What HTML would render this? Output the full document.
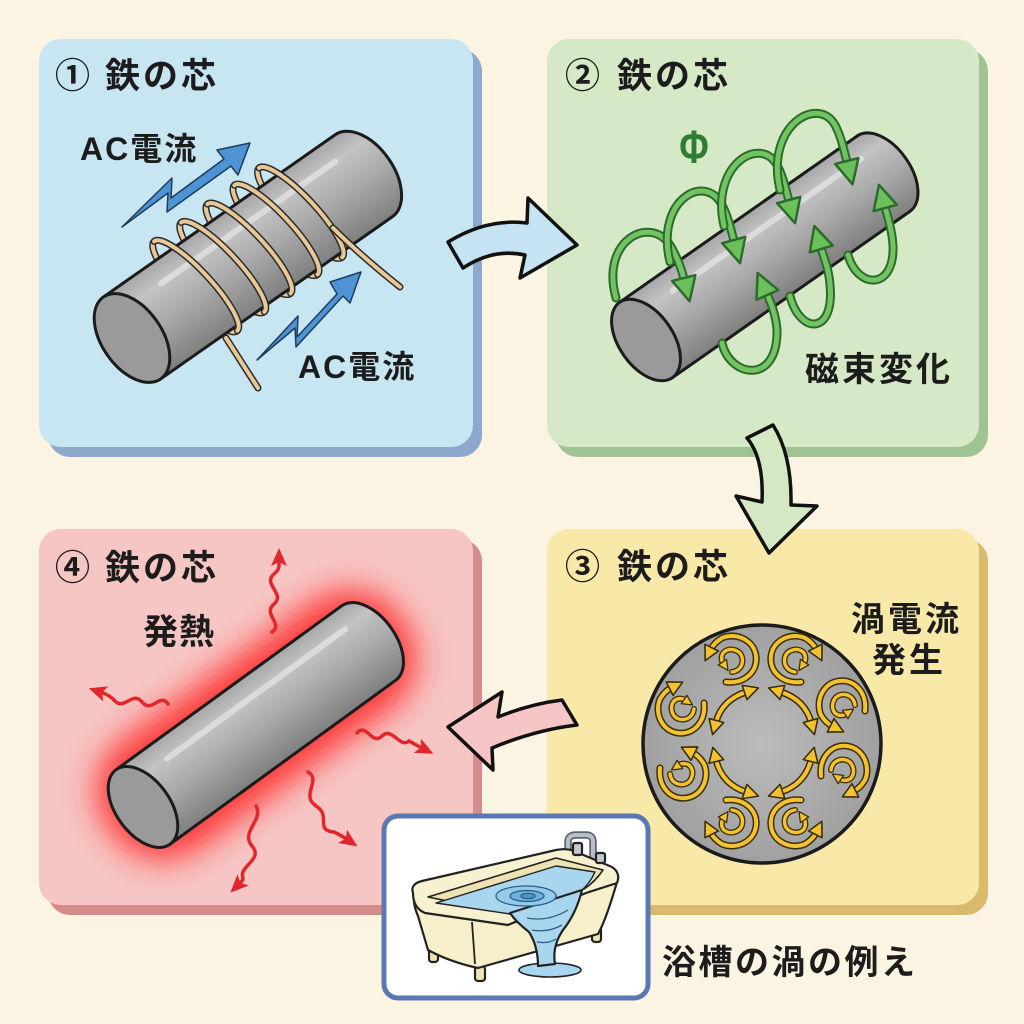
<!DOCTYPE html>
<html><head><meta charset="utf-8">
<style>
html,body{margin:0;padding:0;background:#fcf4e2;}
svg{display:block;}
text{font-family:"Liberation Sans","Noto Sans CJK JP",sans-serif;fill:#1c1c1c;font-weight:700;}
</style></head>
<body>
<svg width="1024" height="1024" viewBox="0 0 1024 1024" xmlns="http://www.w3.org/2000/svg">
<defs>
  <linearGradient id="cg" x1="0" y1="0" x2="0" y2="1">
    <stop offset="0" stop-color="#a6a6a6"/>
    <stop offset="0.22" stop-color="#c3c3c3"/>
    <stop offset="0.55" stop-color="#a9a9a9"/>
    <stop offset="1" stop-color="#7f7f7f"/>
  </linearGradient>
  <radialGradient id="dg" cx="0.5" cy="0.5" r="0.5">
    <stop offset="0" stop-color="#bcbcbc"/>
    <stop offset="1" stop-color="#a0a0a0"/>
  </radialGradient>
  <filter id="blur" x="-50%" y="-50%" width="200%" height="200%">
    <feGaussianBlur stdDeviation="16"/>
  </filter>
  <marker id="gh" markerUnits="userSpaceOnUse" markerWidth="34" markerHeight="34" refX="3" refY="14" orient="auto">
    <path d="M2,2 L26,14 L2,26 Z" fill="#6cc05c" stroke="#2d6b2d" stroke-width="2.5" stroke-linejoin="round"/>
  </marker>
  <marker id="rh" markerUnits="userSpaceOnUse" markerWidth="24" markerHeight="24" refX="3" refY="10" orient="auto">
    <path d="M0,2 L18,10 L0,18 L4,10 Z" fill="#e3262b"/>
  </marker>
  <marker id="yh" markerUnits="userSpaceOnUse" markerWidth="22" markerHeight="22" refX="3" refY="9" orient="auto-start-reverse">
    <path d="M1.5,1.5 L16,9 L1.5,16.5 Z" fill="#f5c22f" stroke="#3a2f0b" stroke-width="1.6" stroke-linejoin="round"/>
  </marker>
  <marker id="yh2" markerUnits="userSpaceOnUse" markerWidth="16" markerHeight="16" refX="2" refY="6" orient="auto">
    <path d="M1,1 L11,6 L1,11 Z" fill="#f5c22f" stroke="#3a2f0b" stroke-width="1.3" stroke-linejoin="round"/>
  </marker>
  <g id="sp">
    <path d="M-4,22 C14,24 28,12 26,-4 C24,-20 6,-28 -8,-22 C-13,-19 -17,-15 -19,-11" fill="none" stroke="#3a2f0b" stroke-width="7" stroke-linecap="round"/>
    <path d="M-4,22 C14,24 28,12 26,-4 C24,-20 6,-28 -8,-22 C-13,-19 -17,-15 -19,-11" fill="none" stroke="#f5c22f" stroke-width="4" stroke-linecap="round" marker-end="url(#yh)"/>
    <path d="M2,12 C10,11 14,4 12,-3 C10,-10 0,-13 -6,-8 C-9,-5 -9,0 -7,3" fill="none" stroke="#3a2f0b" stroke-width="6" stroke-linecap="round"/>
    <path d="M2,12 C10,11 14,4 12,-3 C10,-10 0,-13 -6,-8 C-9,-5 -9,0 -7,3" fill="none" stroke="#f5c22f" stroke-width="3.4" stroke-linecap="round" marker-end="url(#yh2)"/>
  </g>
</defs>

<!-- Panels -->
<rect x="48" y="49" width="434" height="408" rx="22" fill="#8ea7cc"/>
<rect x="39" y="39" width="434" height="408" rx="22" fill="#c8e5f2"/>
<rect x="556" y="49" width="432" height="408" rx="22" fill="#a0c394"/>
<rect x="547" y="39" width="432" height="408" rx="22" fill="#d6e9c6"/>
<rect x="556" y="539" width="432" height="376" rx="22" fill="#d9b96c"/>
<rect x="547" y="529" width="432" height="376" rx="22" fill="#f9e9a8"/>
<rect x="48" y="539" width="434" height="376" rx="22" fill="#d68c8a"/>
<rect x="39" y="529" width="434" height="376" rx="22" fill="#f6c6c4"/>

<!-- Titles -->
<text x="55" y="88" font-size="35">①</text><text x="105" y="88" font-size="35" letter-spacing="3">鉄の芯</text>
<text x="565" y="88" font-size="35">②</text><text x="617" y="88" font-size="35" letter-spacing="3">鉄の芯</text>
<text x="565" y="579" font-size="35">③</text><text x="617" y="579" font-size="35" letter-spacing="3">鉄の芯</text>
<text x="55" y="580" font-size="35">④</text><text x="105" y="580" font-size="35" letter-spacing="3">鉄の芯</text>

<!-- Panel 1 -->
<text x="80" y="160" font-size="32" letter-spacing="2">AC電流</text>
<text x="298" y="378" font-size="32" letter-spacing="2">AC電流</text>
<polygon points="122,227 172,178 171,198 224,159 217,150 250,143 238,175 231,166 167,212 168,193" fill="#4f93d4" stroke="#1d3c5e" stroke-width="1.5" stroke-linejoin="round"/>
<polygon points="257,360 298,316 297,337 337,294 330,282 361,272 350,303 343,296 296,347 295,328" fill="#4f93d4" stroke="#1d3c5e" stroke-width="1.5" stroke-linejoin="round"/>

<g transform="translate(132,338) rotate(-35)">
  <g fill="none" stroke-linecap="round">
    <g transform="rotate(-8 82 -6)"><path d="M82,55 A15,61 0 0,1 82,-67" stroke="#2a2a2a" stroke-width="7"/><path d="M82,55 A15,61 0 0,1 82,-67" stroke="#e9c897" stroke-width="4"/></g>
    <g transform="rotate(-8 115 -6)"><path d="M115,55 A15,61 0 0,1 115,-67" stroke="#2a2a2a" stroke-width="7"/><path d="M115,55 A15,61 0 0,1 115,-67" stroke="#e9c897" stroke-width="4"/></g>
    <g transform="rotate(-8 147 -6)"><path d="M147,55 A15,61 0 0,1 147,-67" stroke="#2a2a2a" stroke-width="7"/><path d="M147,55 A15,61 0 0,1 147,-67" stroke="#e9c897" stroke-width="4"/></g>
    <g transform="rotate(-8 180 -6)"><path d="M180,55 A15,61 0 0,1 180,-67" stroke="#2a2a2a" stroke-width="7"/><path d="M180,55 A15,61 0 0,1 180,-67" stroke="#e9c897" stroke-width="4"/></g>
    <g transform="rotate(-8 210 -6)"><path d="M210,55 A15,61 0 0,1 210,-67" stroke="#2a2a2a" stroke-width="7"/><path d="M210,55 A15,61 0 0,1 210,-67" stroke="#e9c897" stroke-width="4"/></g>
  </g>
  <path d="M0,-50 L283,-50 A30,50 0 0,1 283,50 L0,50 Z" fill="url(#cg)" stroke="#1b1b1b" stroke-width="3"/>
  <line x1="55" y1="-28" x2="268" y2="-28" stroke="#e4e4e4" stroke-width="6" stroke-linecap="round" opacity="0.75"/>
  <ellipse cx="0" cy="0" rx="30" ry="50" fill="#9a9a9a" stroke="#1b1b1b" stroke-width="3"/>
  <g fill="none" stroke-linecap="round">
    <g transform="rotate(-8 82 -6)"><path d="M82,-67 A15,61 0 0,1 82,55" stroke="#2a2a2a" stroke-width="7"/><path d="M82,-67 A15,61 0 0,1 82,55" stroke="#e9c897" stroke-width="4"/></g>
    <g transform="rotate(-8 115 -6)"><path d="M115,-67 A15,61 0 0,1 115,55" stroke="#2a2a2a" stroke-width="7"/><path d="M115,-67 A15,61 0 0,1 115,55" stroke="#e9c897" stroke-width="4"/></g>
    <g transform="rotate(-8 147 -6)"><path d="M147,-67 A15,61 0 0,1 147,55" stroke="#2a2a2a" stroke-width="7"/><path d="M147,-67 A15,61 0 0,1 147,55" stroke="#e9c897" stroke-width="4"/></g>
    <g transform="rotate(-8 180 -6)"><path d="M180,-67 A15,61 0 0,1 180,55" stroke="#2a2a2a" stroke-width="7"/><path d="M180,-67 A15,61 0 0,1 180,55" stroke="#e9c897" stroke-width="4"/></g>
    <g transform="rotate(-8 210 -6)"><path d="M210,-67 A15,61 0 0,1 210,55" stroke="#2a2a2a" stroke-width="7"/><path d="M210,-67 A15,61 0 0,1 210,55" stroke="#e9c897" stroke-width="4"/></g>
  </g>
</g>
<g fill="none" stroke-linecap="round">
  <path d="M226,338 L258,388" stroke="#2a2a2a" stroke-width="7"/>
  <path d="M226,338 L258,388" stroke="#e9c897" stroke-width="4"/>
  <path d="M333,228 Q360,255 400,287" stroke="#2a2a2a" stroke-width="7"/>
  <path d="M333,228 Q360,255 400,287" stroke="#e9c897" stroke-width="4"/>
</g>

<!-- Panel 2 -->
<text x="694" y="163" font-size="46" text-anchor="middle" transform="translate(694 0) scale(0.78 1) translate(-694 0)" style="fill:#2e7d32">Φ</text>
<text x="805" y="381" font-size="34" letter-spacing="3">磁束変化</text>

<g transform="translate(646,340) rotate(-35)">
  <path d="M0,-46 L290,-46 A27,46 0 0,1 290,46 L0,46 Z" fill="url(#cg)" stroke="#1b1b1b" stroke-width="3"/>
  <line x1="50" y1="-25" x2="280" y2="-25" stroke="#e4e4e4" stroke-width="6" stroke-linecap="round" opacity="0.75"/>
  <ellipse cx="0" cy="0" rx="27" ry="46" fill="#9a9a9a" stroke="#1b1b1b" stroke-width="3"/>
</g>
<g fill="none" stroke-linecap="round">
  <path d="M616,298 C600,240 650,215 670,245 C676,255 681,267 684,279" stroke="#2d6b2d" stroke-width="9"/>
  <path d="M616,298 C600,240 650,215 670,245 C676,255 681,267 684,279" stroke="#72c462" stroke-width="5" marker-end="url(#gh)"/>
  <path d="M670,262 C655,200 705,172 722,205 C728,216 731,230 734,241" stroke="#2d6b2d" stroke-width="9"/>
  <path d="M670,262 C655,200 705,172 722,205 C728,216 731,230 734,241" stroke="#72c462" stroke-width="5" marker-end="url(#gh)"/>
  <path d="M724,226 C710,165 760,135 777,165 C783,176 786,190 789,201" stroke="#2d6b2d" stroke-width="9"/>
  <path d="M724,226 C710,165 760,135 777,165 C783,176 786,190 789,201" stroke="#72c462" stroke-width="5" marker-end="url(#gh)"/>
  <path d="M780,190 C765,125 818,95 835,125 C841,136 844,150 847,162" stroke="#2d6b2d" stroke-width="9"/>
  <path d="M780,190 C765,125 818,95 835,125 C841,136 844,150 847,162" stroke="#72c462" stroke-width="5" marker-end="url(#gh)"/>
  <path d="M722,343 C730,378 778,385 777,330 C776,315 771,303 767,294" stroke="#2d6b2d" stroke-width="9"/>
  <path d="M722,343 C730,378 778,385 777,330 C776,315 771,303 767,294" stroke="#72c462" stroke-width="5" marker-end="url(#gh)"/>
  <path d="M790,296 C800,335 835,335 830,285 C829,270 824,258 821,248" stroke="#2d6b2d" stroke-width="9"/>
  <path d="M790,296 C800,335 835,335 830,285 C829,270 824,258 821,248" stroke="#72c462" stroke-width="5" marker-end="url(#gh)"/>
  <path d="M848,255 C858,290 895,290 893,245 C892,230 888,218 885,207" stroke="#2d6b2d" stroke-width="9"/>
  <path d="M848,255 C858,290 895,290 893,245 C892,230 888,218 885,207" stroke="#72c462" stroke-width="5" marker-end="url(#gh)"/>
</g>

<!-- Panel 3 -->
<text x="851" y="631" font-size="34" letter-spacing="3">渦電流</text>
<text x="872" y="672" font-size="34" letter-spacing="3">発生</text>
<circle cx="762" cy="744" r="119" fill="url(#dg)" stroke="#1b1b1b" stroke-width="3.5"/>
<use href="#sp" transform="translate(730,660)"/>
<use href="#sp" transform="translate(797,660) scale(-1,1)"/>
<use href="#sp" transform="translate(730,822) scale(1,-1)"/>
<use href="#sp" transform="translate(797,822) scale(-1,-1)"/>
<use href="#sp" transform="translate(682,707) rotate(-90) scale(-1,1)"/>
<use href="#sp" transform="translate(682,772) rotate(90)"/>
<use href="#sp" transform="translate(843,707) rotate(-90)"/>
<use href="#sp" transform="translate(843,772) rotate(90) scale(-1,1)"/>
<g fill="none" stroke-linecap="round">
  <path d="M716,722 Q722,700 746,692" stroke="#3a2f0b" stroke-width="7"/>
  <path d="M716,722 Q722,700 746,692" stroke="#f5c22f" stroke-width="4" marker-start="url(#yh)" marker-end="url(#yh)"/>
  <path d="M781,692 Q805,700 811,722" stroke="#3a2f0b" stroke-width="7"/>
  <path d="M781,692 Q805,700 811,722" stroke="#f5c22f" stroke-width="4" marker-start="url(#yh)" marker-end="url(#yh)"/>
  <path d="M716,760 Q722,784 746,792" stroke="#3a2f0b" stroke-width="7"/>
  <path d="M716,760 Q722,784 746,792" stroke="#f5c22f" stroke-width="4" marker-start="url(#yh)" marker-end="url(#yh)"/>
  <path d="M811,760 Q805,784 781,792" stroke="#3a2f0b" stroke-width="7"/>
  <path d="M811,760 Q805,784 781,792" stroke="#f5c22f" stroke-width="4" marker-start="url(#yh)" marker-end="url(#yh)"/>
</g>

<!-- Panel 4 -->
<text x="143" y="644" font-size="35" letter-spacing="1">発熱</text>
<g transform="translate(143,807) rotate(-36)">
  <rect x="-40" y="-66" width="360" height="132" rx="60" fill="#ff2a2a" opacity="0.9" filter="url(#blur)"/>
  <path d="M0,-46 L279,-46 A27,46 0 0,1 279,46 L0,46 Z" fill="url(#cg)" stroke="#1b1b1b" stroke-width="3"/>
  <line x1="48" y1="-25" x2="268" y2="-25" stroke="#e4e4e4" stroke-width="6" stroke-linecap="round" opacity="0.75"/>
  <ellipse cx="0" cy="0" rx="27" ry="46" fill="#9a9a9a" stroke="#1b1b1b" stroke-width="3"/>
</g>
<g fill="none" stroke="#e3262b" stroke-width="3.5" stroke-linecap="round">
  <path d="M272,632 C284,624 262,614 274,604 C286,594 262,584 274,574 C280,569 279,566 279,563" marker-end="url(#rh)"/>
  <path d="M168,704 C160,692 152,714 142,702 C132,690 124,712 114,700 C110,696 106,694 103,693" marker-end="url(#rh)"/>
  <path d="M357,733 C366,722 372,746 382,736 C392,726 400,749 409,741 C413,743 416,745 420,747" marker-end="url(#rh)"/>
  <path d="M308,772 C322,780 300,795 316,806 C332,816 314,830 334,832 C338,834 342,836 345,838" marker-end="url(#rh)"/>
  <path d="M256,806 C264,820 240,832 252,846 C264,860 238,866 243,878 C243,880 242,881 241,882" marker-end="url(#rh)"/>
</g>

<!-- Connector arrows -->
<path d="M448,242 Q487,218 527,223 L528,198 L577,245 L520,278 L525,255 Q493,248 463,268 Z" fill="#c5e3f3" stroke="#111" stroke-width="3.5" stroke-linejoin="round"/>
<path d="M747,438 Q764,458 762,502 L736,496 L769,553 L817,506 L791,505 Q792,455 773,425 Z" fill="#d3e8c3" stroke="#111" stroke-width="3.5" stroke-linejoin="round"/>
<path d="M562,700 Q530,704 498,717 L502,692 L448,727 L493,770 L492,748 Q535,730 577,725 Z" fill="#f6c6c6" stroke="#111" stroke-width="3.5" stroke-linejoin="round"/>

<!-- Bathtub inset -->
<rect x="384" y="816" width="264" height="182" rx="14" fill="#ffffff" stroke="#5a78b2" stroke-width="5"/>
<g stroke="#222" stroke-width="2.2" stroke-linejoin="round">
  <rect x="429" y="948" width="9" height="14" rx="3" fill="#efe5b4"/>
  <rect x="475" y="966" width="10" height="15" rx="3" fill="#efe5b4"/>
  <rect x="592" y="927" width="9" height="15" rx="3" fill="#efe5b4"/>
  <!-- body -->
  <path d="M414,896 Q413,905 418,916 L428,950 Q450,962 478,968 L598,934 Q606,920 617,882 Z" fill="#f6efc9"/>
  <path d="M472,922 L475,964" fill="none" stroke-width="1.8"/>
  <!-- faucet -->
  <path d="M568,852 L568,842 Q568,835 576,835 L586,835 Q593,835 593,842 L593,858" fill="none" stroke="#5d666e" stroke-width="7.5"/>
  <path d="M568,852 L568,842 Q568,835 576,835 L586,835 Q593,835 593,842 L593,858" fill="none" stroke="#b7c0c8" stroke-width="4"/>
  <!-- rim -->
  <path d="M413,893 Q410,884 422,881 L556,850 Q566,848 574,851 L612,867 Q621,873 617,883 L586,893 L508,925 L425,913 Q413,908 413,893 Z" fill="#f8f1cf"/>
  <!-- inner wall -->
  <path d="M428,897 L556,858 L603,870 Q595,882 584,889 L510,914 Z" fill="#ece2b2" stroke-width="1.6"/>
  <!-- water -->
  <path d="M436,903 L556,866 L595,872 Q590,883 582,890 L510,914 Z" fill="#a9d6ef" stroke-width="1.4"/>
  <rect x="573" y="843" width="9" height="12" rx="2" fill="#c4c9ce"/>
  <rect x="596" y="853" width="9" height="10" rx="2" fill="#c4c9ce"/>
  <!-- pool & waterfall -->
  <ellipse cx="550" cy="970" rx="31" ry="7" fill="#a9d6ef" stroke-width="1.6"/>
  <path d="M510,913 L582,890 Q576,914 563,930 Q552,946 555,964 L538,966 Q538,946 529,932 Q516,922 510,913 Z" fill="#a9d6ef"/>
</g>
<g fill="none" stroke="#2b5f85" stroke-width="1.3">
  <ellipse cx="526" cy="896" rx="30" ry="10" fill="#93cbea"/>
  <ellipse cx="527" cy="896" rx="17" ry="5.5" fill="#6fb0dc"/>
  <ellipse cx="528" cy="896" rx="7" ry="2.6" fill="#4f97c7"/>
  <path d="M527,918 Q548,922 568,910"/>
  <path d="M532,930 Q548,933 562,925"/>
  <path d="M537,942 Q548,944 556,939"/>
</g>
<text x="662" y="974" font-size="34" letter-spacing="2.5">浴槽の渦の例え</text>
</svg>
</body></html>
